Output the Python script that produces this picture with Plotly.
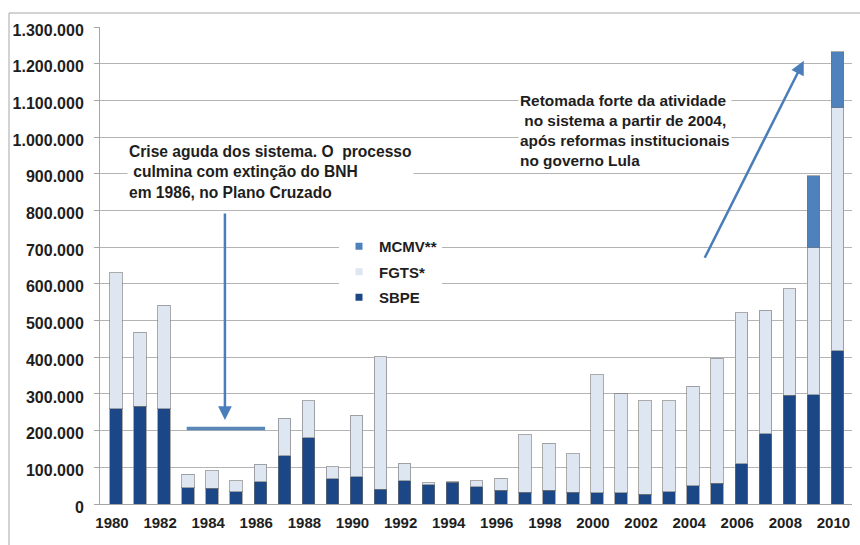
import plotly.graph_objects as go

# ---------------- data ----------------
years = list(range(1980, 2011))
sbpe = [260000, 267000, 259000, 44000, 43000, 34000, 61000, 131000, 181000, 69000,
        74000, 40000, 63000, 52000, 59000, 47000, 37000, 32000, 38000, 32000,
        31000, 31000, 27000, 33000, 50000, 57000, 110000, 192000, 296000, 298000, 418000]
fgts = [370000, 201000, 283000, 37000, 47000, 29000, 47000, 103000, 100000, 33000,
        168000, 361000, 48000, 6000, 2000, 17000, 33000, 157000, 128000, 105000,
        321000, 269000, 255000, 249000, 271000, 340000, 411000, 336000, 290000, 400000, 662000]
mcmv = [None] * 29 + [197000, 153000]

series_names = ["SBPE", "FGTS*", "MCMV**"]
y_ticks = list(range(0, 1300001, 100000))
x_ticks = list(range(1980, 2011, 2))

note_crisis = "Crise aguda dos sistema. O\u00a0 processo<br>\u00a0culmina com extinção do BNH<br>em 1986, no Plano Cruzado"
note_lula = "Retomada forte da atividade<br>\u00a0no sistema a partir de 2004,<br>após reformas institucionais<br>no governo Lula"

# ---------------- style ----------------
W, H = 860, 545
L, R, T, B = 100, 8, 27, 41
PW, PH = W - L - R, H - T - B

def px(xpix):
    return (xpix - L) / PW

def py(ypix):
    return (H - B - ypix) / PH

C_SBPE = "#1c4786"
C_FGTS = "#dde6f1"
C_MCMV = "#4f81bd"
C_ARROW = "#4a7ebb"
EDGE = dict(color="rgba(115,115,115,0.6)", width=1)
FONT = "Liberation Sans, Arial, sans-serif"
TXT = "#1e1e1e"

fig = go.Figure()
fig.add_trace(go.Bar(x=years, y=sbpe, name=series_names[0], marker=dict(color=C_SBPE, line=EDGE),
                     width=0.52, showlegend=False))
fig.add_trace(go.Bar(x=years, y=fgts, name=series_names[1], marker=dict(color=C_FGTS, line=EDGE),
                     width=0.52, showlegend=False))
fig.add_trace(go.Bar(x=years, y=mcmv, name=series_names[2], marker=dict(color=C_MCMV, line=EDGE),
                     width=0.52, showlegend=False))

# legend entries (small square symbols like the original)
for i, (nm, col) in enumerate(zip(series_names[::-1], [C_MCMV, C_FGTS, C_SBPE])):
    fig.add_trace(go.Scatter(x=[None], y=[None], mode="markers", name=nm,
                             marker=dict(symbol="square", size=7, color=col),
                             legendgroup=f"g{i}", showlegend=True))

fig.update_layout(
    width=W, height=H,
    margin=dict(l=L, r=R, t=T, b=B, pad=0),
    barmode="stack",
    paper_bgcolor="white", plot_bgcolor="white",
    separators=",.",
    font=dict(family=FONT, size=15, color=TXT),
    legend=dict(x=px(339), y=py(230), xanchor="left", yanchor="top",
                bgcolor="white", borderwidth=0, traceorder="grouped",
                tracegroupgap=3, font=dict(family=FONT, size=15, color=TXT, weight="bold")),
    xaxis=dict(range=[1979.335, 2010.605], tickvals=x_ticks, ticktext=[str(v) for v in x_ticks],
               showgrid=False, showline=True, linecolor="#a6a6a6", linewidth=1,
               ticks="", ticklabelstandoff=5, ticklabelshift=-4,
               tickfont=dict(family=FONT, size=15, color=TXT, weight="bold"), zeroline=False),
    yaxis=dict(range=[0, 1300000], tickvals=y_ticks, tickformat=",d",
               showgrid=True, gridcolor="#b4b4b4", gridwidth=1,
               showline=True, linecolor="#a6a6a6", linewidth=1,
               ticks="outside", ticklen=5, tickcolor="#a6a6a6",
               ticklabelstandoff=7, ticklabelshift=3,
               tickfont=dict(family=FONT, size=16, color=TXT, weight="bold"), zeroline=False),
    shapes=[
        dict(type="rect", xref="paper", yref="paper", x0=px(9), x1=px(875), y0=py(560), y1=py(13),
             line=dict(color="#a6a6a6", width=1), fillcolor="rgba(0,0,0,0)", layer="below"),
        dict(type="line", xref="x", yref="y", x0=1982.94, x1=1986.2, y0=206000, y1=206000,
             line=dict(color="#5887b8", width=3.5)),
    ],
    annotations=[
        dict(text=note_crisis, xref="paper", yref="paper", x=px(127), y=py(141),
             xanchor="left", yanchor="top", align="left", showarrow=False,
             bgcolor="white", font=dict(family=FONT, size=15.6, color=TXT, weight="bold")),
        dict(text=note_lula, xref="paper", yref="paper", x=px(518), y=py(90),
             xanchor="left", yanchor="top", align="left", showarrow=False,
             bgcolor="white", font=dict(family=FONT, size=15.4, color=TXT, weight="bold")),
        dict(text="", x=1984.53, y=229000, ax=1984.53, ay=796000, axref="x", ayref="y",
             xref="x", yref="y", showarrow=True, arrowhead=2, arrowsize=1.1, arrowwidth=2.5,
             arrowcolor=C_ARROW),
        dict(text="", x=2008.6, y=1208000, ax=2004.45, ay=667000, axref="x", ayref="y",
             xref="x", yref="y", showarrow=True, arrowhead=2, arrowsize=1.1, arrowwidth=2.5,
             arrowcolor=C_ARROW),
    ],
)

fig.write_html("out.html")
